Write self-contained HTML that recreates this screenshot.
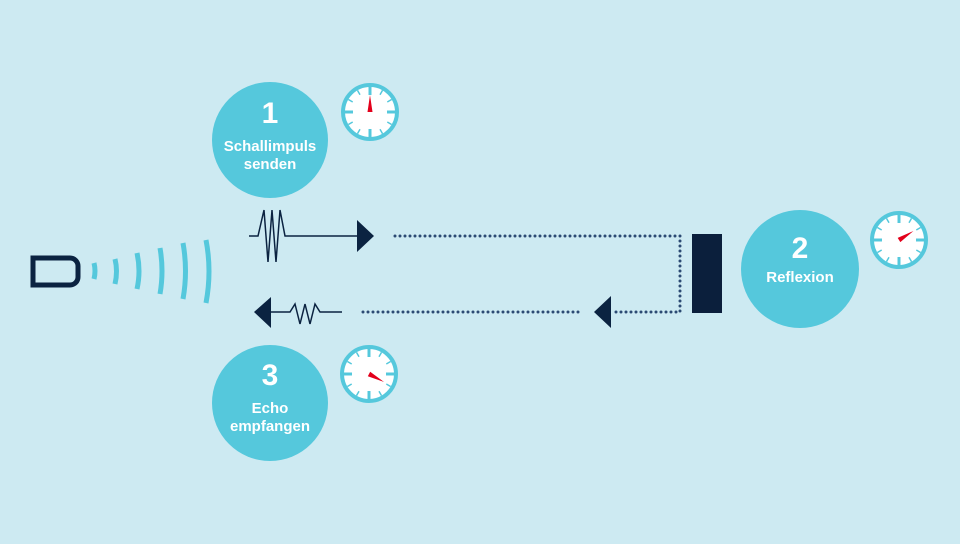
<!DOCTYPE html>
<html><head><meta charset="utf-8"><style>
html,body{margin:0;padding:0;background:#cdeaf2;}
svg{display:block;}
text{font-family:"Liberation Sans",sans-serif;font-weight:bold;fill:#fff;text-anchor:middle;}
</style></head><body>
<svg width="960" height="544" viewBox="0 0 960 544" xmlns="http://www.w3.org/2000/svg">
<rect width="960" height="544" fill="#cdeaf2"/>
<defs>
<g id="clk">
<circle r="27" fill="#fff" stroke="#55c8dc" stroke-width="4"/>
<g stroke="#55c8dc" stroke-width="3">
<line x1="0" y1="-25" x2="0" y2="-17"/><line x1="0" y1="25" x2="0" y2="17"/>
<line x1="-25" y1="0" x2="-17" y2="0"/><line x1="25" y1="0" x2="17" y2="0"/>
</g>
<g stroke="#55c8dc" stroke-width="1.5">
<line x1="12.5" y1="-21.6" x2="10" y2="-17.3"/><line x1="21.6" y1="-12.5" x2="17.3" y2="-10"/>
<line x1="21.6" y1="12.5" x2="17.3" y2="10"/><line x1="12.5" y1="21.6" x2="10" y2="17.3"/>
<line x1="-12.5" y1="21.6" x2="-10" y2="17.3"/><line x1="-21.6" y1="12.5" x2="-17.3" y2="10"/>
<line x1="-21.6" y1="-12.5" x2="-17.3" y2="-10"/><line x1="-12.5" y1="-21.6" x2="-10" y2="-17.3"/>
</g>
</g>
<polygon id="hand" points="-2.5,0 0,-17 2.5,0" fill="#e3001b"/>
</defs>
<!-- sensor -->
<path d="M33,258 H70 A8,8 0 0 1 78,266 V277 A8,8 0 0 1 70,285 H33 Z" fill="none" stroke="#0b2341" stroke-width="5"/>
<g fill="none" stroke="#55c8dc" stroke-width="5">
<path d="M94,263 Q96,271 94,279"/>
<path d="M115,259 Q118,271 115,284"/>
<path d="M137,253 Q141,271 137,289"/>
<path d="M160,248 Q164,271 160,294"/>
<path d="M183,243 Q188,271 183,299"/>
<path d="M206,240 Q212,271 206,303"/>
</g>
<!-- top arrow -->
<polyline points="249,236 258,236 264,210 268,262 272,210 276,262 280,210 285,236 358,236" fill="none" stroke="#0b2341" stroke-width="1.5"/>
<polygon points="357,220 374,236 357,252" fill="#0b2341"/>
<!-- dotted path -->
<polyline points="395,236 680,236 680,312 612,312" fill="none" stroke="#2b4a73" stroke-width="3" stroke-dasharray="0,5" stroke-linecap="round"/>
<line x1="363" y1="312" x2="582" y2="312" stroke="#2b4a73" stroke-width="3" stroke-dasharray="0,5" stroke-linecap="round"/>
<polygon points="611,296 594,312 611,328" fill="#0b2341"/>
<rect x="692" y="234" width="30" height="79" fill="#0b1f3c"/>
<!-- bottom arrow -->
<polygon points="271,297 254,312 271,328" fill="#0b2341"/>
<polyline points="270,312 290,312 295,304 300,324 305,304 310,324 315,304 320,312 342,312" fill="none" stroke="#0b2341" stroke-width="1.5"/>
<!-- circles -->
<circle cx="270" cy="140" r="58" fill="#55c8dc"/>
<text x="270" y="123" font-size="30">1</text>
<text x="270" y="151" font-size="15">Schallimpuls</text>
<text x="270" y="169" font-size="15">senden</text>
<circle cx="800" cy="269" r="59" fill="#55c8dc"/>
<text x="800" y="258" font-size="30">2</text>
<text x="800" y="282" font-size="15">Reflexion</text>
<circle cx="270" cy="403" r="58" fill="#55c8dc"/>
<text x="270" y="385" font-size="30">3</text>
<text x="270" y="413" font-size="15">Echo</text>
<text x="270" y="431" font-size="15">empfangen</text>
<!-- clocks -->
<g transform="translate(370,112)"><use href="#clk"/><use href="#hand"/></g>
<g transform="translate(899,240)"><use href="#clk"/><use href="#hand" transform="rotate(58)"/></g>
<g transform="translate(369,374)"><use href="#clk"/><use href="#hand" transform="rotate(118)"/></g>
</svg>
</body></html>
